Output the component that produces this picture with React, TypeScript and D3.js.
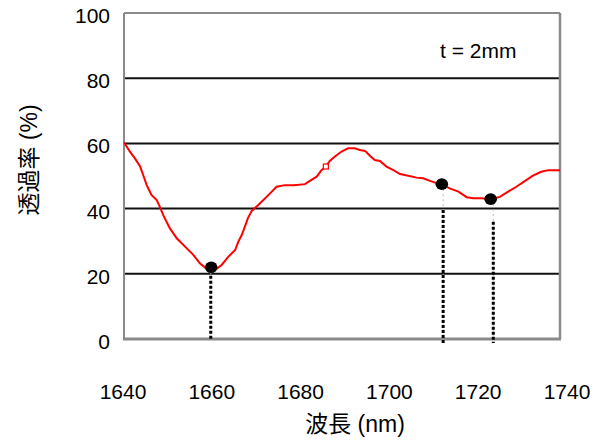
import React from "react";
import * as d3 from "d3";

const wavelength = [
  1640, 1641.4, 1642.5, 1643.7, 1644.4, 1645.2, 1646.3, 1647.5, 1648.2, 1649,
  1650.5, 1652.1, 1654.4, 1655.9, 1657.4, 1658.6, 1660, 1661, 1662.4, 1663.9,
  1665.5, 1666.2, 1667, 1667.7, 1668.4, 1669.3, 1670.8, 1672.7, 1673.9, 1675,
  1676.9, 1679, 1681.5, 1683, 1684.2, 1685.3, 1686.3, 1687.2, 1688.3, 1689.9,
  1691.4, 1692.9, 1694.1, 1695.3, 1696.4, 1697.5, 1698.7, 1700.2, 1701.8, 1703.3,
  1705.2, 1707.1, 1708.6, 1710.2, 1711.5, 1712.8, 1714.7, 1716.7, 1718.6, 1720.1,
  1722, 1724.1, 1726.2, 1728.1, 1730, 1732, 1733.8, 1735.7, 1737.3, 1740,
];
const transmittance = [
  60.3, 57.4, 55.4, 52.9, 50.3, 47.2, 44.2, 42.6, 40.6, 38.0,
  34.0, 30.9, 27.8, 25.8, 23.2, 21.9, 21.2, 21.3, 22.7, 25.2,
  27.3, 29.8, 31.9, 34.4, 37.0, 39.3, 41.1, 43.6, 45.2, 46.7,
  47.2, 47.2, 47.5, 48.8, 49.8, 51.8, 52.9, 54.6, 55.9, 57.5,
  58.5, 58.5, 58.0, 57.7, 56.2, 54.9, 54.6, 52.9, 51.8, 50.6,
  50.1, 49.5, 49.3, 48.5, 47.9, 47.5, 46.2, 45.2, 43.5, 43.2,
  43.2, 42.9, 43.6, 45.2, 46.7, 48.5, 50.1, 51.3, 51.8, 51.8,
];

// small open square marker on the curve
const markerWavelength = [1686.3];
const markerValue = [52.9];

// highlighted points with drop lines
const peakWavelength = [1660, 1712.9, 1724.1];
const peakValue = [22.0, 47.5, 42.9];
const dropWavelength = [1659.9, 1713.2, 1724.7];
const dropBlackTop = [19.4, 39.6, 36.0];
const dropBottom = [-0.3, -1.2, -1.2];

const yTicks = [0, 20, 40, 60, 80, 100];
const xTicks = [1640, 1660, 1680, 1700, 1720, 1740];

const xTitle = "波長 (nm)";
const yTitle = "透過率 (%)";
const note = "t = 2mm";

const W = 604;
const H = 441;
const left = 124;
const right = 560;
const top = 13;
const bottom = 339;

const FONT = "'Liberation Sans', Arial, 'Noto Sans CJK JP', sans-serif";

export default function App() {
  const x = d3.scaleLinear().domain([1640, 1740]).range([left, right]);
  const xLabel = d3.scaleLinear().domain([1640, 1740]).range([123, 567]);
  const y = d3.scaleLinear().domain([0, 100]).range([bottom, top]);

  const pts: [number, number][] = wavelength.map((w, i) => [w, transmittance[i]]);
  const line = d3
    .line<[number, number]>()
    .x((d) => x(d[0]))
    .y((d) => y(d[1]));

  return (
    <svg
      width={W}
      height={H}
      style={{ position: "absolute", left: 0, top: 0, background: "#fff" }}
    >
      <rect x={0} y={0} width={W} height={H} fill="#fff" />
      {/* gridlines */}
      {yTicks
        .filter((t) => t > 0 && t < 100)
        .map((t) => (
          <line
            key={"g" + t}
            x1={left}
            x2={right}
            y1={y(t)}
            y2={y(t)}
            stroke="#111"
            strokeWidth={2}
          />
        ))}
      {/* frame */}
      <line x1={left} x2={right} y1={y(100)} y2={y(100)} stroke="#8a8a8a" strokeWidth={2} />
      <line x1={left} x2={left} y1={y(100)} y2={y(0)} stroke="#8a8a8a" strokeWidth={2} />
      <line x1={right} x2={right} y1={y(100)} y2={y(0)} stroke="#8a8a8a" strokeWidth={2.5} />
      <line x1={left - 1} x2={right + 1} y1={y(0)} y2={y(0)} stroke="#8a8a8a" strokeWidth={3} />

      {/* drop lines */}
      {dropWavelength.map((w, i) => (
        <g key={"d" + i}>
          <line
            x1={x(w)}
            x2={x(w)}
            y1={y(peakValue[i])}
            y2={y(dropBottom[i])}
            stroke="#bbb"
            strokeWidth={1}
            strokeDasharray="2 3"
          />
          <line
            x1={x(w)}
            x2={x(w)}
            y1={y(dropBlackTop[i])}
            y2={y(dropBottom[i])}
            stroke="#000"
            strokeWidth={3}
            strokeDasharray="3 2"
          />
        </g>
      ))}

      {/* curve */}
      <path d={line(pts) || ""} fill="none" stroke="#ff0000" strokeWidth={2} />
      {markerWavelength.map((w, i) => (
        <rect
          key={"m" + i}
          x={x(w) - 2.5}
          y={y(markerValue[i]) - 2.5}
          width={5}
          height={5}
          fill="#fff"
          stroke="#ff0000"
          strokeWidth={1.2}
        />
      ))}

      {/* dots */}
      {peakWavelength.map((w, i) => (
        <ellipse key={"p" + i} cx={x(w)} cy={y(peakValue[i])} rx={6.3} ry={5.8} fill="#000" />
      ))}

      {/* y tick labels */}
      {yTicks.map((t) => (
        <text
          key={"yl" + t}
          x={110}
          y={y(t) + 2.5}
          textAnchor="end"
          dominantBaseline="central"
          fontFamily={FONT}
          fontSize={21}
          fill="#000"
        >
          {t}
        </text>
      ))}

      {/* x tick labels */}
      {xTicks.map((t) => (
        <text
          key={"xl" + t}
          x={xLabel(t)}
          y={399}
          textAnchor="middle"
          fontFamily={FONT}
          fontSize={21}
          fill="#000"
        >
          {t}
        </text>
      ))}

      {/* titles */}
      <text
        x={355}
        y={432}
        textAnchor="middle"
        fontFamily={FONT}
        fontSize={23}
        fill="#000"
      >
        {xTitle}
      </text>
      <text
        transform={`translate(29,160) rotate(-90)`}
        textAnchor="middle"
        dominantBaseline="central"
        fontFamily={FONT}
        fontSize={23}
        fill="#000"
      >
        {yTitle}
      </text>
      <text x={440} y={58} fontFamily={FONT} fontSize={21} fill="#000">
        {note}
      </text>
    </svg>
  );
}
